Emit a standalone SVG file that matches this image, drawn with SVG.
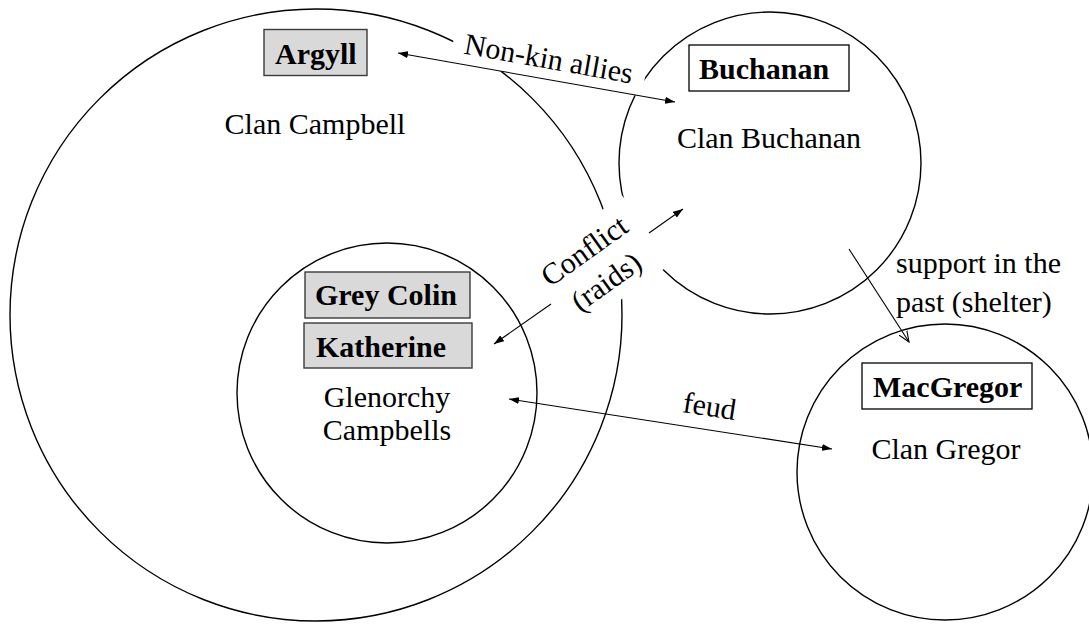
<svg xmlns="http://www.w3.org/2000/svg" width="1089" height="624" viewBox="0 0 1089 624">
<defs>
<style>
.circ{fill:none;stroke:#000;stroke-width:1.4}
.t{font-family:"Liberation Serif","Times New Roman",serif;font-size:30px;fill:#000}
.b{font-family:"Liberation Serif","Times New Roman",serif;font-size:30px;font-weight:bold;fill:#000}
.gbox{fill:#d9d9d9;stroke:#3a3a3a;stroke-width:1.4}
.wbox{fill:#fff;stroke:#000;stroke-width:1.3}
.edge{fill:none;stroke:#000;stroke-width:1.1}
.bg{fill:#fff;stroke:none}
</style>
<marker id="ah" viewBox="0 0 10 7" refX="10" refY="3.5" markerWidth="10" markerHeight="7" markerUnits="userSpaceOnUse" orient="auto-start-reverse">
<path d="M0,0 L10,3.5 L0,7 z" fill="#000"/>
</marker>
<marker id="oh" viewBox="0 0 12 10" refX="11" refY="5" markerWidth="12" markerHeight="10" markerUnits="userSpaceOnUse" orient="auto">
<path d="M0,0.5 L11,5 L0,9.5" fill="none" stroke="#000" stroke-width="1.1"/>
</marker>
</defs>
<rect width="1089" height="624" fill="#fff"/>

<g id="clan-campbell">
<circle class="circ" cx="316" cy="315" r="306"/>
<text class="t" x="315" y="134" text-anchor="middle">Clan Campbell</text>
</g>
<g id="argyll">
<rect class="gbox" x="264" y="29.5" width="103" height="46"/>
<text class="b" x="275" y="64">Argyll</text>
</g>
<g id="glenorchy">
<circle class="circ" cx="387" cy="393" r="150"/>
<text class="t" x="387" y="407" text-anchor="middle">Glenorchy</text>
<text class="t" x="387" y="440" text-anchor="middle">Campbells</text>
</g>
<g id="grey-colin">
<rect class="gbox" x="305" y="272" width="165" height="46"/>
<text class="b" x="315" y="305">Grey Colin</text>
</g>
<g id="katherine">
<rect class="gbox" x="304" y="323" width="168" height="45"/>
<text class="b" x="316" y="357">Katherine</text>
</g>
<g id="clan-buchanan">
<circle class="circ" cx="770" cy="163" r="151"/>
<text class="t" x="769" y="148" text-anchor="middle">Clan Buchanan</text>
</g>
<g id="buchanan">
<rect class="wbox" x="689" y="45" width="160" height="46"/>
<text class="b" x="699" y="79">Buchanan</text>
</g>
<g id="clan-gregor">
<circle class="circ" cx="945" cy="472" r="148"/>
<text class="t" x="946" y="459" text-anchor="middle">Clan Gregor</text>
</g>
<g id="macgregor">
<rect class="wbox" x="862" y="363" width="170" height="46"/>
<text class="b" x="873" y="397">MacGregor</text>
</g>

<g id="label-backgrounds">
<rect class="bg" transform="translate(547,68.5) rotate(10.1)" x="-97" y="-36" width="195" height="47"/>
<rect class="bg" transform="translate(590,259) rotate(-35.5)" x="-62" y="-33" width="125" height="84"/>
</g>

<g id="connectors">
<line class="edge" x1="398" y1="53" x2="675" y2="102" marker-start="url(#ah)" marker-end="url(#ah)"/>
<line class="edge" x1="551" y1="304" x2="494" y2="344" marker-end="url(#ah)"/>
<line class="edge" x1="649" y1="233" x2="683" y2="209" marker-end="url(#ah)"/>
<line class="edge" x1="509" y1="399" x2="832" y2="449" marker-start="url(#ah)" marker-end="url(#ah)"/>
<line class="edge" x1="849" y1="249" x2="909" y2="342" marker-end="url(#oh)"/>
</g>

<g id="connector-labels">
<text class="t" transform="translate(547,68.5) rotate(10.1)" text-anchor="middle">Non-kin allies</text>
<g transform="translate(590,259) rotate(-35.5)">
<text class="t" x="0" y="0" text-anchor="middle">Conflict</text>
<text class="t" x="0" y="38" text-anchor="middle">(raids)</text>
</g>
<text class="t" transform="translate(708,416) rotate(8.8)" text-anchor="middle">feud</text>
<text class="t" x="896" y="273">support in the</text>
<text class="t" x="896" y="312">past (shelter)</text>
</g>
</svg>
